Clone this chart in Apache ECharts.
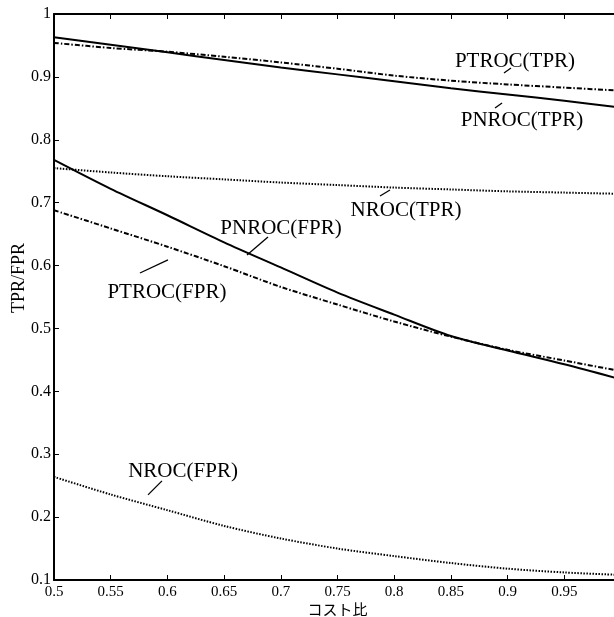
<!DOCTYPE html>
<html><head><meta charset="utf-8">
<script src="https://cdn.jsdelivr.net/npm/echarts@6/dist/echarts.min.js"></script>
<style>html,body{margin:0;padding:0;background:#fff}#c{width:614px;height:617px}</style>
</head><body><div id="c"></div>
<script>
// cost ratio (x)
const costRatio = [0.5, 0.55, 0.6, 0.65, 0.7, 0.75, 0.8, 0.85, 0.9, 0.95, 1.0];
// series values (TPR / FPR)
const pnrocTPR = [0.963, 0.951, 0.939, 0.927, 0.915, 0.904, 0.893, 0.882, 0.872, 0.862, 0.851];
const ptrocTPR = [0.954, 0.946, 0.940, 0.932, 0.923, 0.913, 0.902, 0.894, 0.888, 0.883, 0.878];
const nrocTPR  = [0.755, 0.748, 0.742, 0.737, 0.732, 0.728, 0.724, 0.721, 0.718, 0.716, 0.714];
const pnrocFPR = [0.768, 0.722, 0.680, 0.637, 0.597, 0.557, 0.522, 0.488, 0.465, 0.443, 0.419];
const ptrocFPR = [0.688, 0.659, 0.630, 0.599, 0.566, 0.538, 0.511, 0.487, 0.466, 0.449, 0.432];
const nrocFPR  = [0.264, 0.236, 0.211, 0.186, 0.166, 0.150, 0.138, 0.127, 0.118, 0.112, 0.108];
// axis ticks
const xTicks = [0.5, 0.55, 0.6, 0.65, 0.7, 0.75, 0.8, 0.85, 0.9, 0.95, 1];
const yTicks = [0.1, 0.2, 0.3, 0.4, 0.5, 0.6, 0.7, 0.8, 0.9, 1];
// annotation labels (data coords): text position, leader from, leader to
const annoText = ['PTROC(TPR)', 'PNROC(TPR)', 'NROC(TPR)', 'PNROC(FPR)', 'PTROC(FPR)', 'NROC(FPR)'];
const annoAt   = [[0.9065,0.9237],[0.9127,0.8299],[0.8104,0.6868],[0.7002,0.6582],[0.5996,0.5564],[0.6138,0.2719]];
const annoFrom = [[0.8968,0.9062],[0.8889,0.8506],[0.7875,0.7107],[0.6887,0.6455],[0.5758,0.5882],[0.5952,0.2576]];
const annoTo   = [[0.9030,0.9141],[0.8951,0.8585],[0.7963,0.7202],[0.6702,0.6169],[0.6005,0.6089],[0.5829,0.2353]];

const SERIF = '"Liberation Serif","DejaVu Serif",serif';
const pair = arr => costRatio.map((x, i) => [x, arr[i]]);
const fmt = v => String(Math.round(v * 100) / 100);

const chart = echarts.init(document.getElementById('c'), null, {renderer: 'canvas'});
const axisLine = {show: true, lineStyle: {color: '#000', width: 2}};
const tick = {show: true, inside: true, length: 5, lineStyle: {color: '#000', width: 1}};
const mkSeries = (name, data, dash, w) => ({
  name, type: 'line', data: pair(data), smooth: 0.3, symbol: 'none', silent: true,
  lineStyle: {color: '#000', width: w, type: dash}
});

chart.setOption({
  animation: false,
  backgroundColor: '#fff',
  grid: {left: 54, top: 14, width: 567, height: 566, containLabel: false, outerBoundsMode: 'none'},
  xAxis: [{
    type: 'value', min: 0.5, max: 1, interval: 0.05, position: 'bottom',
    axisLine, axisTick: tick, splitLine: {show: false},
    axisLabel: {margin: 5, color: '#000', fontFamily: SERIF, fontSize: 15, formatter: fmt, showMaxLabel: false},
    name: 'コスト比', nameLocation: 'middle', nameGap: 22, nameMoveOverlap: false,
    nameTextStyle: {color: '#000', fontFamily: '"Noto Sans CJK JP",sans-serif', fontSize: 15}
  }, {
    type: 'value', min: 0.5, max: 1, interval: 0.05, position: 'top',
    axisLine, axisTick: tick, axisLabel: {show: false}, splitLine: {show: false}
  }],
  yAxis: [{
    type: 'value', min: 0.1, max: 1, interval: 0.1, position: 'left',
    axisLine, axisTick: tick, splitLine: {show: false},
    axisLabel: {margin: 3, color: '#000', fontFamily: SERIF, fontSize: 16, formatter: fmt},
    name: 'TPR/FPR', nameLocation: 'middle', nameGap: 26, nameRotate: 90, nameMoveOverlap: false,
    nameTextStyle: {color: '#000', fontFamily: SERIF, fontSize: 18, padding: [0, 0, 0, 38]}
  }, {
    type: 'value', min: 0.1, max: 1, interval: 0.1, position: 'right',
    axisLine, axisTick: tick, axisLabel: {show: false}, splitLine: {show: false}
  }],
  series: [
    mkSeries('PNROC(TPR)', pnrocTPR, 'solid', 2),
    mkSeries('PTROC(TPR)', ptrocTPR, [5, 2, 1.5, 2], 2),
    mkSeries('NROC(TPR)', nrocTPR, [1.5, 1.5], 2),
    mkSeries('PNROC(FPR)', pnrocFPR, 'solid', 2),
    mkSeries('PTROC(FPR)', ptrocFPR, [5, 2, 1.5, 2], 2),
    mkSeries('NROC(FPR)', nrocFPR, [1.5, 1.5], 2)
  ]
});

const g = [];
annoText.forEach((t, i) => {
  const p = chart.convertToPixel({gridIndex: 0}, annoAt[i]);
  const a = chart.convertToPixel({gridIndex: 0}, annoFrom[i]);
  const b = chart.convertToPixel({gridIndex: 0}, annoTo[i]);
  g.push({type: 'text', x: p[0], y: p[1], style: {text: t, fill: '#000', font: '21px ' + SERIF, textAlign: 'center', textVerticalAlign: 'middle'}});
  g.push({type: 'line', shape: {x1: a[0], y1: a[1], x2: b[0], y2: b[1]}, style: {stroke: '#000', lineWidth: 1.3}});
});
chart.setOption({graphic: g});
</script></body></html>
